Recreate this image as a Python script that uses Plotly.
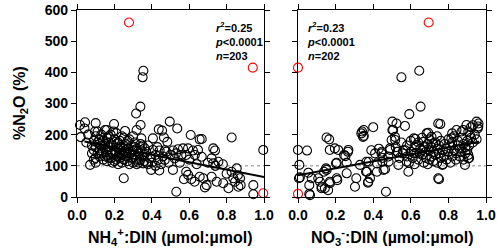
import plotly.graph_objects as go

# ---------------- data ----------------
nh4_x = [0.043,0.10,0.198,0.316,0.339,0.355,0.351,0.34,0.016,0.02,0.04,0.096,0.159,0.194,0.06,0.05,
         0.07,0.08,0.08,0.09,0.09,0.10,0.10,0.10,0.11,0.11,0.11,0.12,0.12,0.12,
         0.13,0.13,0.14,0.14,0.14,0.15,0.15,0.15,0.16,0.16,0.16,0.17,0.17,0.18,0.18,0.18,
         0.19,0.19,0.20,0.20,0.20,0.21,0.21,0.21,0.22,0.22,0.23,0.23,0.23,0.24,0.24,0.25,0.25,0.25,0.257,
         0.26,0.26,0.27,0.27,0.28,0.28,0.28,0.29,0.29,0.30,0.30,0.30,0.31,0.31,0.32,0.32,0.319,0.32,
         0.335,0.353,0.344,0.362,0.33,0.34,0.35,0.36,0.37,0.38,0.38,0.39,0.397,0.397,0.406,0.406,0.40,
         0.437,0.455,0.465,0.483,0.442,0.478,0.433,0.469,0.42,0.43,0.45,0.46,0.47,0.49,0.50,0.496,0.42,0.44,
         0.513,0.54,0.567,0.594,0.62,0.647,0.522,0.558,0.584,0.513,0.584,0.594,0.572,0.611,0.629,0.656,0.531,
         0.536,0.608,0.656,0.53,0.55,0.60,0.63,0.64,
         0.667,0.827,0.729,0.738,0.996,0.72,0.756,0.667,0.729,0.854,0.827,0.675,0.72,0.693,0.684,0.747,
         0.782,0.81,0.836,0.845,0.872,0.863,0.875,0.943,0.943,0.70,0.74,0.80,0.86,0.78,
         0.09,0.10,0.12,0.13,0.14,0.15,0.16,0.17,0.17,0.18,0.19,0.20,0.21,0.22,0.22,0.23,0.24,0.24,0.25,
         0.26,0.27,0.27,0.29,0.30,0.31,0.33,0.34,0.35,0.36,0.37]
nh4_y = [240,237,234,268,290,405,384,231,231,192,220,210,215,210,200,175,
         103,140,165,150,180,125,160,195,140,175,210,150,130,185,
         165,200,120,145,180,155,170,215,135,190,115,160,175,145,200,125,
         165,110,150,185,135,170,120,205,155,105,140,180,125,160,110,145,190,60,212,
         130,170,115,155,140,185,105,165,125,150,110,195,135,175,120,155,215,105,
         119,108,188,156,140,170,130,115,145,105,165,125,129,87,188,151,110,
         217,213,191,177,149,145,119,119,135,160,105,130,150,110,135,242,100,85,
         149,153,156,156,149,151,124,135,135,87,81,71,57,57,49,65,17,
         220,199,185,140,110,120,135,105,
         186,191,156,149,151,124,113,129,108,92,81,60,65,38,31,49,
         44,28,60,49,60,33,38,38,9,110,100,75,70,105,
         120,110,170,140,165,130,150,125,195,170,140,115,145,175,130,160,135,195,120,
         150,135,180,145,125,160,110,150,165,135,110]
nh4_out_x = [0.278, 0.94, 0.996]
nh4_out_y = [560, 415, 12]
nh4_fit_x = [0.04, 1.0]
nh4_fit_y = [178, 64]

no3_x = [0.0,0.048,0.007,0.01,0.055,0.06,0.06,0.152,0.166,0.169,0.214,0.268,0.252,0.202,0.149,0.138,
         0.108,0.117,0.125,0.16,0.169,0.209,0.259,0.31,0.346,0.341,0.40,0.362,0.374,0.383,0.364,0.33,
         0.41,0.444,0.449,0.468,0.463,0.489,0.498,0.516,0.506,0.524,0.569,0.557,0.578,0.587,0.616,0.63,
         0.648,0.667,0.684,0.71,0.72,0.75,0.757,0.768,0.816,0.843,0.879,0.896,0.915,0.906,0.888,0.959,0.96,
         0.55,0.645,0.652,0.592,0.502,0.93,
         0.005,0.196,0.245,0.266,0.206,0.259,0.152,0.303,0.064,0.126,0.143,0.17,0.206,0.073,0.337,
         0.35,0.35,0.39,0.446,0.49,0.527,0.376,0.42,0.482,0.534,0.42,0.455,0.367,0.372,0.502,0.517,0.624,
         0.746,0.693,0.95,0.956,0.92,0.906,0.87,0.82,0.746,0.906,
         0.52,0.54,0.55,0.56,0.58,0.58,0.59,0.60,0.60,0.61,0.62,0.62,0.63,0.64,0.64,0.65,0.66,0.66,0.67,0.67,
         0.68,0.68,0.69,0.69,0.70,0.70,0.71,0.71,0.72,0.72,0.73,0.73,0.74,0.74,0.74,0.75,0.75,0.76,0.76,0.77,
         0.77,0.78,0.78,0.79,0.79,0.80,0.80,0.81,0.81,0.82,0.82,0.83,0.83,0.84,0.84,0.85,0.85,0.86,0.86,0.87,
         0.87,0.88,0.88,0.89,0.89,0.90,0.90,0.91,0.92,0.93,0.94,0.95,0.91,0.70,0.66,0.62,0.57,0.53,0.48,0.45,0.43]
no3_y = [151,149,103,63,78,10,38,191,185,151,151,151,131,108,92,81,
         60,49,28,22,49,54,76,60,193,210,224,81,49,60,113,103,
         140,140,113,17,89,156,183,193,215,236,228,140,113,81,188,167,
         140,177,204,193,172,57,234,103,188,215,215,231,199,135,103,226,236,
         384,405,290,266,242,230,
         60,156,135,145,110,110,87,33,6,33,28,44,60,60,204,
         215,196,150,145,151,145,113,108,113,103,81,87,81,46,215,183,186,
         236,206,242,220,224,210,210,204,60,124,
         160,125,175,150,130,165,110,145,180,125,160,105,140,175,120,155,135,190,110,160,
         145,125,170,105,150,185,130,160,115,145,175,135,155,110,195,140,165,125,180,150,
         105,170,135,155,120,185,145,165,110,130,175,150,195,140,120,165,180,130,155,145,
         190,170,120,160,140,180,150,165,190,175,200,185,125,120,150,140,150,145,130,125,155]
no3_out_x = [0.0, 0.0, 0.695]
no3_out_y = [415, 10, 560]
no3_fit_x = [0.0, 0.963]
no3_fit_y = [70, 177]

x_ticks = [0.0, 0.2, 0.4, 0.6, 0.8, 1.0]
y_ticks = [0, 100, 200, 300, 400, 500, 600]

# ---------------- figure ----------------
FONT = "Liberation Sans, Arial, sans-serif"
W, H = 500, 251
L, R, T, B = 77, 14, 10, 54
PW, PH = W - L - R, H - T - B


def px(xp):
    return (xp - L) / PW


def py(yp):
    return (H - B - yp) / PH


fig = go.Figure()


def add_panel(xs, ys, ox, oy, fx, fy, xa, ya):
    fig.add_trace(go.Scatter(x=[0, 1], y=[100, 100], mode="lines", xaxis=xa, yaxis=ya,
                             line=dict(color="#888888", width=1, dash="dot"), showlegend=False,
                             hoverinfo="skip"))
    fig.add_trace(go.Scatter(x=xs, y=ys, mode="markers", xaxis=xa, yaxis=ya, cliponaxis=False,
                             marker=dict(symbol="circle-open", size=9, color="black",
                                         line=dict(width=1.1, color="black")),
                             showlegend=False))
    fig.add_trace(go.Scatter(x=fx, y=fy, mode="lines", xaxis=xa, yaxis=ya,
                             line=dict(color="black", width=2), showlegend=False))
    fig.add_trace(go.Scatter(x=ox, y=oy, mode="markers", xaxis=xa, yaxis=ya, cliponaxis=False,
                             marker=dict(symbol="circle-open", size=9, color="red",
                                         line=dict(width=1.1, color="red")),
                             showlegend=False))


add_panel(nh4_x, nh4_y, nh4_out_x, nh4_out_y, nh4_fit_x, nh4_fit_y, "x", "y")
add_panel(no3_x, no3_y, no3_out_x, no3_out_y, no3_fit_x, no3_fit_y, "x2", "y2")

axis_common = dict(showline=True, linecolor="black", linewidth=1.3, mirror="ticks",
                   ticks="outside", ticklen=5, tickwidth=1.3, tickcolor="black",
                   showgrid=False, zeroline=False, automargin=False,
                   tickfont=dict(family=FONT, size=14, color="black", weight="bold"))

fig.update_layout(
    width=W, height=H,
    margin=dict(l=L, r=R, t=T, b=B, pad=0, autoexpand=False),
    paper_bgcolor="white", plot_bgcolor="white",
    xaxis=dict(domain=[0, px(264)], range=[0, 1], tickvals=x_ticks,
               tickformat=".1f", anchor="y", **axis_common),
    yaxis=dict(domain=[0, 1], range=[0, 600], tickvals=y_ticks, anchor="x", **axis_common),
    xaxis2=dict(domain=[px(298), 1], range=[0, 1], tickvals=x_ticks,
                tickformat=".1f", anchor="y2", **axis_common),
    yaxis2=dict(domain=[0, 1], range=[0, 600], tickvals=y_ticks, anchor="x2",
                showticklabels=False, **axis_common),
    annotations=[
        dict(text="<b>%N<sub>2</sub>O (%)</b>", x=px(20), y=py(103), xref="paper", yref="paper",
             xanchor="center", yanchor="middle",
             textangle=-90, showarrow=False, font=dict(family=FONT, size=16, color="black")),
        dict(text="<b>NH<sub>4</sub><sup>+</sup>:DIN (µmol:µmol)</b>", x=px(170), y=py(237),
             xref="paper", yref="paper", xanchor="center", yanchor="middle", showarrow=False,
             font=dict(family=FONT, size=16, color="black")),
        dict(text="<b>NO<sub>3</sub><sup>-</sup>:DIN (µmol:µmol)</b>", x=px(392), y=py(237),
             xref="paper", yref="paper", xanchor="center", yanchor="middle", showarrow=False,
             font=dict(family=FONT, size=16, color="black")),
        dict(text="<b><i>r</i><sup>2</sup>=0.25<br><i>p</i>&lt;0.0001<br><i>n</i>=203</b>",
             x=px(213), y=py(18), xref="paper", yref="paper", xanchor="left", yanchor="top",
             align="left", showarrow=False, font=dict(family=FONT, size=11, color="black")),
        dict(text="<b><i>r</i><sup>2</sup>=0.23<br><i>p</i>&lt;0.0001<br><i>n</i>=202</b>",
             x=px(305), y=py(18), xref="paper", yref="paper", xanchor="left", yanchor="top",
             align="left", showarrow=False, font=dict(family=FONT, size=11, color="black")),
    ],
)

fig.write_html("out.html", config={"displayModeBar": False},
               post_script="document.body.style.margin='0';document.body.style.overflow='hidden';")
